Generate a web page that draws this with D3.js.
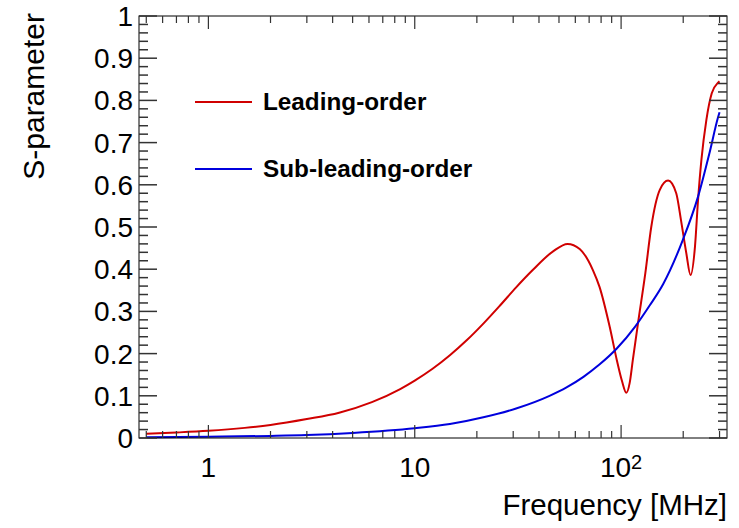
<!DOCTYPE html>
<html>
<head>
<meta charset="utf-8">
<script src="https://cdn.jsdelivr.net/npm/d3@7"></script>
<style>
  html, body { margin: 0; padding: 0; background: #fff; }
  svg { display: block; font-family: "Liberation Sans", Arial, Helvetica, sans-serif; }
</style>
</head>
<body>
<svg id="chart" width="739" height="528"></svg>
<script>
// Leading-order S-parameter vs frequency (MHz)
const leadingFreq = [0.5, 0.7, 1, 1.5, 2, 3, 4.3, 6.2, 8.5, 10, 12.2, 14.8, 17.9, 21.5, 25.9, 31, 37.3, 47, 55, 63, 73, 78.6, 88, 95.3, 101, 106, 110, 114, 120.6, 131, 140, 154, 169, 185, 195, 207, 217, 228, 236, 245, 259, 275, 295, 300];
const leadingS    = [0.010, 0.013, 0.017, 0.024, 0.031, 0.045, 0.060, 0.085, 0.116, 0.136, 0.164, 0.196, 0.232, 0.271, 0.314, 0.357, 0.398, 0.443, 0.460, 0.448, 0.398, 0.358, 0.264, 0.185, 0.135, 0.107, 0.130, 0.185, 0.270, 0.390, 0.500, 0.588, 0.610, 0.580, 0.517, 0.438, 0.386, 0.453, 0.564, 0.659, 0.754, 0.817, 0.842, 0.845];

// Sub-leading-order S-parameter vs frequency (MHz)
const subFreq = [0.5, 1, 2, 3, 5, 10, 14.8, 21.5, 31, 45, 54.4, 65.7, 78.5, 95.3, 117, 138, 160, 199, 236, 268, 295, 300];
const subS    = [0.002, 0.003, 0.005, 0.007, 0.012, 0.023, 0.033, 0.049, 0.070, 0.100, 0.120, 0.145, 0.174, 0.212, 0.264, 0.315, 0.365, 0.469, 0.572, 0.675, 0.760, 0.772];

const seriesNames = ["Leading-order", "Sub-leading-order"];
const seriesColors = ["#d00000", "#0000dd"];

// Axis ticks
const xMajorTicks = [1, 10, 100];
const xMajorLabels = ["1", "10", "10|2"];
const yMajorTicks = [0, 0.1, 0.2, 0.3, 0.4, 0.5, 0.6, 0.7, 0.8, 0.9, 1];
const yMajorLabels = ["0", "0.1", "0.2", "0.3", "0.4", "0.5", "0.6", "0.7", "0.8", "0.9", "1"];
const xDomain = [0.461, 326];
const yDomain = [0, 1];

const frame = { left: 139, right: 727, top: 16, bottom: 438 };
const svg = d3.select("#chart");

const x = d3.scaleLog().domain(xDomain).range([frame.left, frame.right]);
const y = d3.scaleLinear().domain(yDomain).range([frame.bottom, frame.top]);

// minor x ticks: 2..9 of each decade inside the domain
const xMinorTicks = [];
for (let dec = 0.1; dec <= 100; dec *= 10) {
  for (let m = 2; m <= 9; m++) {
    const v = +(m * dec).toPrecision(6);
    if (v >= xDomain[0] && v <= xDomain[1]) xMinorTicks.push(v);
  }
}
const yMinorTicks = d3.range(0, 1.0001, 0.02).map(v => +v.toFixed(2)).filter(v => !yMajorTicks.includes(v));

const tickColor = "#333";
const g = svg.append("g");

// curves
const line = d3.line()
  .x(d => x(d[0]))
  .y(d => y(d[1]))
  .curve(d3.curveMonotoneX);

const curves = [
  d3.zip(leadingFreq, leadingS),
  d3.zip(subFreq, subS)
];
curves.forEach((pts, i) => {
  g.append("path")
    .datum(pts)
    .attr("d", line)
    .attr("fill", "none")
    .attr("stroke", seriesColors[i])
    .attr("stroke-width", 2)
    .attr("stroke-linejoin", "round");
});

// frame
g.append("rect")
  .attr("x", frame.left).attr("y", frame.top)
  .attr("width", frame.right - frame.left)
  .attr("height", frame.bottom - frame.top)
  .attr("fill", "none").attr("stroke", "#000").attr("stroke-width", 1);

// y ticks on both sides, pointing inward
const yTicks = g.append("g").attr("stroke", tickColor).attr("stroke-width", 1.5);
yMajorTicks.forEach(v => {
  yTicks.append("line").attr("x1", frame.left).attr("x2", frame.left + 18).attr("y1", y(v)).attr("y2", y(v));
  yTicks.append("line").attr("x1", frame.right).attr("x2", frame.right - 18).attr("y1", y(v)).attr("y2", y(v));
});
yMinorTicks.forEach(v => {
  yTicks.append("line").attr("x1", frame.left).attr("x2", frame.left + 9).attr("y1", y(v)).attr("y2", y(v));
  yTicks.append("line").attr("x1", frame.right).attr("x2", frame.right - 9).attr("y1", y(v)).attr("y2", y(v));
});

// x ticks on bottom and top, pointing inward
const xTicks = g.append("g").attr("stroke", tickColor).attr("stroke-width", 1.2);
xMajorTicks.forEach(v => {
  xTicks.append("line").attr("x1", x(v)).attr("x2", x(v)).attr("y1", frame.bottom).attr("y2", frame.bottom - 13);
  xTicks.append("line").attr("x1", x(v)).attr("x2", x(v)).attr("y1", frame.top).attr("y2", frame.top + 13);
});
xMinorTicks.forEach(v => {
  xTicks.append("line").attr("x1", x(v)).attr("x2", x(v)).attr("y1", frame.bottom).attr("y2", frame.bottom - 7);
  xTicks.append("line").attr("x1", x(v)).attr("x2", x(v)).attr("y1", frame.top).attr("y2", frame.top + 7);
});

// y tick labels
g.append("g").selectAll("text")
  .data(yMajorTicks)
  .join("text")
  .attr("x", frame.left - 6)
  .attr("y", d => y(d) + 10)
  .attr("text-anchor", "end")
  .attr("font-size", 28)
  .attr("fill", "#000")
  .text((d, i) => yMajorLabels[i]);

// x tick labels (with superscript exponent where given)
const xl = g.append("g");
xMajorTicks.forEach((v, i) => {
  const parts = xMajorLabels[i].split("|");
  const t = xl.append("text")
    .attr("x", x(v))
    .attr("y", 477)
    .attr("text-anchor", "middle")
    .attr("font-size", 28)
    .attr("fill", "#000");
  t.append("tspan").text(parts[0]);
  if (parts[1]) {
    t.append("tspan").attr("font-size", 20).attr("dy", -8).text(parts[1]);
  }
});

// axis titles
g.append("text")
  .attr("x", frame.right)
  .attr("y", 515)
  .attr("text-anchor", "end")
  .attr("font-size", 29.5)
  .attr("fill", "#000")
  .text("Frequency [MHz]");

g.append("text")
  .attr("transform", "translate(44,13) rotate(-90)")
  .attr("text-anchor", "end")
  .attr("font-size", 30)
  .attr("fill", "#000")
  .text("S-parameter");

// legend
const legendRows = [102, 169];
const legend = g.append("g");
seriesNames.forEach((name, i) => {
  legend.append("line")
    .attr("x1", 195).attr("x2", 252)
    .attr("y1", legendRows[i]).attr("y2", legendRows[i])
    .attr("stroke", seriesColors[i]).attr("stroke-width", 2);
  legend.append("text")
    .attr("x", 263)
    .attr("y", legendRows[i] + 8)
    .attr("font-size", 24.3)
    .attr("font-weight", "bold")
    .attr("fill", "#000")
    .text(name);
});
</script>
</body>
</html>
